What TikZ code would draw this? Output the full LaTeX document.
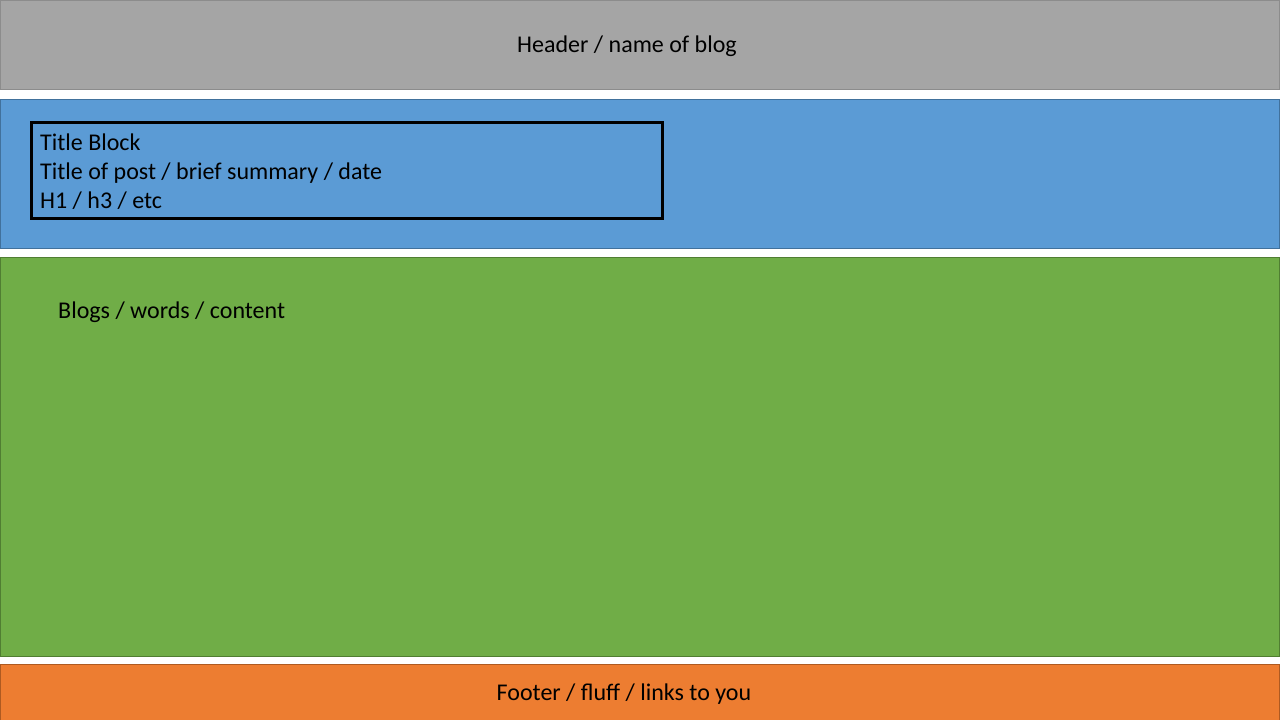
\documentclass[tikz,border=0pt]{standalone}
\usepackage{fontspec}
\setmainfont{Carlito}
\definecolor{hdrfill}{HTML}{A5A5A5}
\definecolor{hdrline}{HTML}{8C8C8C}
\definecolor{bluefill}{HTML}{5B9BD5}
\definecolor{blueline}{HTML}{41719C}
\definecolor{greenfill}{HTML}{70AD47}
\definecolor{greenline}{HTML}{507E32}
\definecolor{orangefill}{HTML}{ED7D31}
\definecolor{orangeline}{HTML}{AE5A21}
\begin{document}
\begin{tikzpicture}[x=1pt,y=-1pt,
  band/.style={line width=1pt},
  lbl/.style={font=\fontsize{24}{29}\selectfont, inner sep=0pt, text=black}]
\useasboundingbox (0,0) rectangle (1280,720);
\fill[white] (0,0) rectangle (1280,720);
\draw[band, fill=hdrfill, draw=hdrline] (0.5,0.5) rectangle (1279.5,89.5);
\draw[band, fill=bluefill, draw=blueline] (0.5,99.5) rectangle (1279.5,248.5);
\draw[band, fill=greenfill, draw=greenline] (0.5,257.5) rectangle (1279.5,656.5);
\draw[band, fill=orangefill, draw=orangeline] (0.5,664.5) rectangle (1279.5,725);
\draw[line width=3pt, black] (31.5,122.5) rectangle (662.5,218.5);
\node[lbl] (hdr) at (627,46) {Header / name of blog};
\node[lbl, anchor=west, align=left] (title) at (40,171.5) {Title Block\\Title of post / brief summary / date\\H1 / h3 / etc};
\node[lbl, anchor=west] (blogs) at (58,312) {Blogs / words / content};
\node[lbl] (foot) at (624,694) {Footer / fluff / links to you};
\end{tikzpicture}
\end{document}
